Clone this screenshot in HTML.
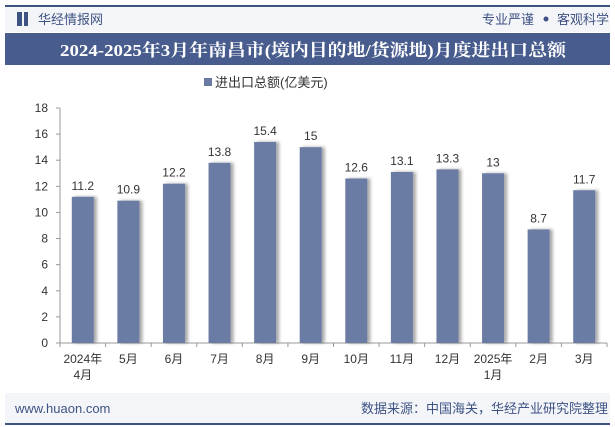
<!DOCTYPE html>
<html><head><meta charset="utf-8"><style>
body{margin:0;width:615px;height:427px;background:#fff;overflow:hidden;font-family:"Liberation Sans","Noto Sans CJK SC",sans-serif;}
</style></head><body>
<svg width="615" height="427" xmlns="http://www.w3.org/2000/svg" style="position:absolute;left:0;top:0">
<defs><filter id="sh" x="-20%" y="-5%" width="160%" height="110%"><feDropShadow dx="3" dy="0" stdDeviation="1.5" flood-color="#000" flood-opacity="0.35"/></filter></defs>
<rect x="5" y="6" width="605" height="26" fill="#f3f5f9"/>
<rect x="5" y="5" width="605" height="2" fill="#3e5283"/>
<rect x="17" y="12" width="5" height="14" fill="#3e5283"/><rect x="24" y="12" width="4" height="14" fill="#3e5283"/>
<text x="38" y="24" font-size="13" fill="#3e5283">华经情报网</text>
<text x="534" y="24" font-size="13" fill="#3e5283" text-anchor="end">专业严谨</text>
<circle cx="546" cy="19" r="2.5" fill="#3e5283"/>
<text x="609" y="24" font-size="13" fill="#3e5283" text-anchor="end">客观科学</text>
<rect x="5" y="33" width="605" height="32" fill="#485d8d"/>
<text x="60" y="56" font-size="17" font-weight="bold" fill="#fff" textLength="506" lengthAdjust="spacingAndGlyphs" font-family="Liberation Serif,Noto Serif CJK SC,serif">2024-2025年3月年南昌市(境内目的地/货源地)月度进出口总额</text>
<rect x="204" y="78" width="8" height="8" fill="#6a7ba3"/>
<text x="215" y="87" font-size="13" fill="#333">进出口总额(亿美元)</text>
<g id="axes"></g>
<g id="bars"></g>
<rect x="5" y="393" width="605" height="31" fill="#f3f5f9"/>
<rect x="5" y="423" width="605" height="2" fill="#3e5283"/>
<text x="15" y="413" font-size="13" fill="#3e5283">www.huaon.com</text>
<text x="608" y="413" font-size="13" fill="#3e5283" text-anchor="end">数据来源：中国海关，华经产业研究院整理</text>
</svg>
<script>
const categories=["2024年\n4月","5月","6月","7月","8月","9月","10月","11月","12月","2025年\n1月","2月","3月"];
const values=[11.2,10.9,12.2,13.8,15.4,15,12.6,13.1,13.3,13,8.7,11.7];
const labels=["11.2","10.9","12.2","13.8","15.4","15","12.6","13.1","13.3","13","8.7","11.7"];
const yTicks=[0,2,4,6,8,10,12,14,16,18];
const NS="http://www.w3.org/2000/svg";
const x0=60,x1=607,y0=343,yTop=108,yMax=18;
const y=v=>y0-(y0-yTop)*v/yMax;
const step=(x1-x0)/categories.length;
const xc=i=>x0+step*(i+0.5);
function mk(t,a,p){const e=document.createElementNS(NS,t);for(const k in a)e.setAttribute(k,a[k]);p.appendChild(e);return e;}
const ax=document.getElementById('axes'),bg=document.getElementById('bars');
let l=mk('line',{x1:x0,y1:yTop,x2:x0,y2:y0,stroke:'#999'},ax);


l=mk('line',{x1:x0,y1:y0,x2:x1,y2:y0,stroke:'#999'},ax);


yTicks.forEach(v=>{
  mk('line',{x1:x0-4,y1:y(v),x2:x0,y2:y(v),stroke:'#999'},ax);
  const t=mk('text',{x:x0-12,y:y(v)+4,'font-size':12,fill:'#333','text-anchor':'end'},ax);
  t.textContent=v;
  
  
});
for(let i=0;i<=categories.length;i++)mk('line',{x1:x0+step*i,y1:y0,x2:x0+step*i,y2:y0+4,stroke:'#999'},ax);
categories.forEach((c,i)=>{
  const lines=c.split("\n");
  lines.forEach((s,j)=>{
    const t=mk('text',{x:xc(i),y:y0+20+j*16,'font-size':12,fill:'#333','text-anchor':'middle'},ax);
    t.textContent=s;
    
    
  });
  const v=values[i];
  const r=mk('rect',{x:xc(i)-11,y:y(v),width:22,height:y0-y(v),fill:'#6a7ba3',filter:'url(#sh)'},bg);
  
  
  const t=mk('text',{x:xc(i),y:y(v)-7,'font-size':12,fill:'#333','text-anchor':'middle'},bg);
  t.textContent=labels[i];
  
  
});
</script>
</body></html>
